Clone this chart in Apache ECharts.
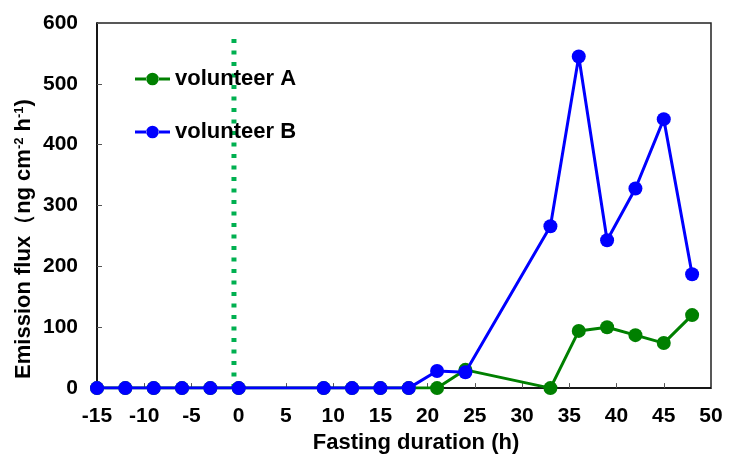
<!DOCTYPE html>
<html>
<head>
<meta charset="utf-8">
<script src="https://cdn.jsdelivr.net/npm/echarts@6/dist/echarts.min.js"></script>
<style>html,body{margin:0;padding:0;background:#fff}#c{width:739px;height:459px}</style>
</head>
<body>
<div id="c"></div>
<script>
const hours = [-15, -12, -9, -6, -3, 0, 9, 12, 15, 18, 21, 24, 33, 36, 39, 42, 45, 48];
const volunteerA = [0, 0, 0, 0, 0, 0, 0, 0, 0, 0, 0, 30, 0, 94, 100, 87, 74, 120];
const volunteerB = [0, 0, 0, 0, 0, 0, 0, 0, 0, 0, 28, 26, 266, 545, 243, 328, 442, 187];
const seriesNames = ['volunteer A', 'volunteer B'];
const fastingStartX = [-0.5, -0.5];
const fastingStartY = [0, 586];

const FONT = '"Liberation Sans", Arial, sans-serif';
const pair = (xs, ys) => xs.map((x, i) => [x, ys[i]]);
const LEGEND_ICON = 'path://M0,5 L12,5 L12,8 L0,8 Z M24,5 L36,5 L36,8 L24,8 Z M11.5,6.5 A6.5,6.5 0 1,0 24.5,6.5 A6.5,6.5 0 1,0 11.5,6.5 Z';

const chart = echarts.init(document.getElementById('c'), null, {renderer: 'canvas'});
chart.setOption({
  animation: false,
  backgroundColor: '#fff',
  grid: {left: 97, right: 28, top: 23, bottom: 70, show: true, borderColor: '#222', borderWidth: 1.5, backgroundColor: 'transparent'},
  legend: {
    data: seriesNames,
    orient: 'vertical',
    left: 130, top: 63,
    icon: LEGEND_ICON,
    itemWidth: 35, itemHeight: 13, itemGap: 31,
    textStyle: {fontFamily: FONT, fontWeight: 'bold', fontSize: 22, color: '#000'}
  },
  xAxis: {
    type: 'value', min: -15, max: 50, interval: 5,
    name: 'Fasting duration (h)', nameLocation: 'middle', nameGap: 43,
    nameTextStyle: {fontFamily: FONT, fontWeight: 'bold', fontSize: 22, color: '#000', padding: [0, 0, 0, 24]},
    axisLine: {show: true, onZero: false, lineStyle: {color: '#000', width: 1.5}},
    axisTick: {show: true, inside: true, length: 5, lineStyle: {color: '#555', width: 1}},
    axisLabel: {fontFamily: FONT, fontWeight: 'bold', fontSize: 21, color: '#000', margin: 18},
    splitLine: {show: false}
  },
  yAxis: {
    type: 'value', min: 0, max: 600, interval: 100,
    axisLine: {show: true, onZero: false, lineStyle: {color: '#000', width: 1.5}},
    axisTick: {show: true, inside: true, length: 5, lineStyle: {color: '#555', width: 1}},
    axisLabel: {fontFamily: FONT, fontWeight: 'bold', fontSize: 21, color: '#000', margin: 19},
    splitLine: {show: false}
  },
  graphic: [{
    type: 'text', x: 24, y: 239, rotation: Math.PI / 2,
    style: {
      text: '{m|Emission flux（ng cm}{s|-2}{m| h}{s|-1}{m|)}',
      align: 'center', verticalAlign: 'middle',
      rich: {
        m: {fontFamily: FONT, fontWeight: 'bold', fontSize: 22, fill: '#000'},
        s: {fontFamily: FONT, fontWeight: 'bold', fontSize: 13, fill: '#000', verticalAlign: 'top', padding: [0, 0, 8, 0]}
      }
    }
  }],
  series: [
    {
      type: 'line', silent: true, symbol: 'none', z: 1,
      data: pair(fastingStartX, fastingStartY),
      lineStyle: {color: '#00B050', width: 5, type: [4, 7.5]}
    },
    {
      name: seriesNames[0], type: 'line', data: pair(hours, volunteerA), z: 2,
      symbol: 'circle', symbolSize: 14, color: '#008000',
      lineStyle: {color: '#008000', width: 3}, itemStyle: {color: '#008000'}
    },
    {
      name: seriesNames[1], type: 'line', data: pair(hours, volunteerB), z: 3,
      symbol: 'circle', symbolSize: 14, color: '#0000FF',
      lineStyle: {color: '#0000FF', width: 3}, itemStyle: {color: '#0000FF'}
    }
  ]
});
</script>
</body>
</html>
